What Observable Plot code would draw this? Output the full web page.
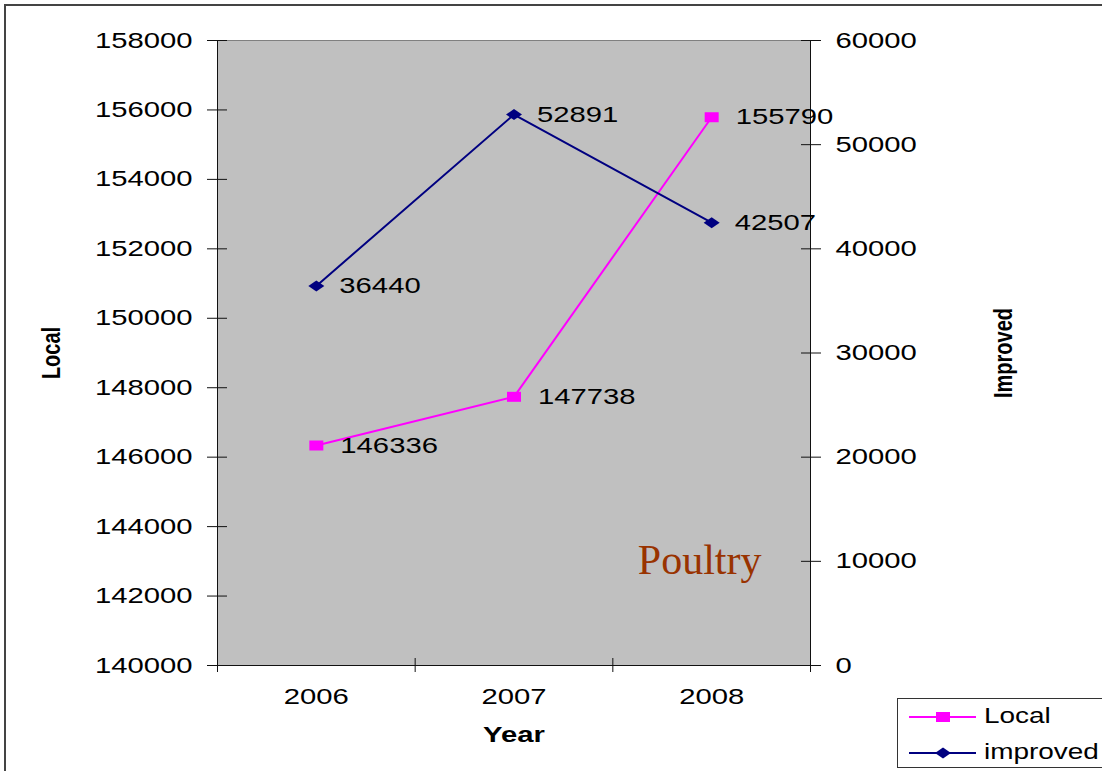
<!DOCTYPE html>
<html><head><meta charset="utf-8">
<script src="https://cdn.jsdelivr.net/npm/d3@7"></script>
<script src="https://cdn.jsdelivr.net/npm/@observablehq/plot@0.6"></script>
<style>
body{margin:0;background:#fff;overflow:hidden;width:1102px;height:771px;position:relative;font-family:"Liberation Sans",Arial,sans-serif}
#chart{position:absolute;left:0;top:0}
#frame{position:absolute;left:4px;top:4px;width:1200px;height:900px;border-left:2px solid #444;border-top:2px solid #444;pointer-events:none}
#legend{position:absolute;left:897px;top:698px;width:240px;height:68px;border:1.5px solid #333;background:#fff}
.row{position:absolute;left:0;height:30px;width:240px}
.row svg{position:absolute;left:0;top:0}
.row span{position:absolute;left:86px;top:2px;font-size:22px;line-height:26px;color:#000;display:inline-block;transform:scaleX(1.27);transform-origin:left center;white-space:nowrap}
</style></head><body>
<div id="chart"></div><div id="frame"></div><div id="legend"></div>
<script>
const years = [2006, 2007, 2008];
const localValues = [146336, 147738, 155790];
const improvedValues = [36440, 52891, 42507];
const localTicks = d3.range(140000, 158001, 2000);
const improvedTicks = d3.range(0, 60001, 10000);
const xBoundaries = [2005.5, 2006.5, 2007.5, 2008.5];
const seriesNames = ["Local", "improved"];
const seriesColors = ["#FF00FF", "#000080"];

const toLeft = v => 140000 + v * (18000 / 60000);
const fromLeft = d => Math.round((d - 140000) / 0.3);

const localData = years.map((y, i) => ({year: y, value: localValues[i], label: String(localValues[i])}));
const improvedData = years.map((y, i) => ({year: y, value: toLeft(improvedValues[i]), label: String(improvedValues[i])}));

const rectSymbol = {draw(ctx) { ctx.rect(-7, -5, 14, 10); }};
const diamondSymbol = {draw(ctx) { ctx.moveTo(0, -5.5); ctx.lineTo(8, 0); ctx.lineTo(0, 5.5); ctx.lineTo(-8, 0); ctx.closePath(); }};

const chart = Plot.plot({
  width: 1102,
  height: 771,
  marginLeft: 217,
  marginRight: 292,
  marginTop: 40,
  marginBottom: 106,
  style: {fontFamily: "Liberation Sans, Arial, sans-serif", fontSize: "22px", background: "transparent", color: "#000"},
  x: {domain: [2005.5, 2008.5], axis: null},
  y: {domain: [140000, 158000], axis: null},
  marks: [
    Plot.frame({fill: "#C0C0C0", stroke: "#808080"}),
    Plot.ruleX([2005.5, 2008.5], {stroke: "#111"}),
    Plot.ruleY([140000], {stroke: "#111"}),
    Plot.axisY(localTicks, {anchor: "left", tickSize: 20, dx: 10, fill: "none", stroke: "#111", label: null}),
    Plot.axisY(localTicks, {anchor: "left", tickSize: 0, tickPadding: 25, fontSize: 22, tickFormat: d => String(d), label: null}),
    Plot.axisY(improvedTicks.map(toLeft), {anchor: "right", tickSize: 20, dx: -10, fill: "none", stroke: "#111", label: null}),
    Plot.axisY(improvedTicks.map(toLeft), {anchor: "right", tickSize: 0, tickPadding: 25, fontSize: 22, tickFormat: d => String(fromLeft(d)), label: null}),
    Plot.axisX(xBoundaries, {anchor: "bottom", tickSize: 14, dy: -7, fill: "none", stroke: "#111", label: null}),
    Plot.axisX(years, {anchor: "bottom", tickSize: 0, tickPadding: 23, fontSize: 22, tickFormat: d => String(d), label: null}),
    Plot.line(localData, {x: "year", y: "value", stroke: seriesColors[0], strokeWidth: 2}),
    Plot.line(improvedData, {x: "year", y: "value", stroke: seriesColors[1], strokeWidth: 2}),
    Plot.dot(localData, {x: "year", y: "value", symbol: rectSymbol, fill: seriesColors[0], stroke: "none"}),
    Plot.dot(improvedData, {x: "year", y: "value", symbol: diamondSymbol, fill: seriesColors[1], stroke: "none"}),
    Plot.text(localData, {x: "year", y: "value", text: "label", dx: 24, textAnchor: "start", lineAnchor: "middle", fontSize: 22, fill: "#000"}),
    Plot.text(improvedData, {x: "year", y: "value", text: "label", dx: 23, textAnchor: "start", lineAnchor: "middle", fontSize: 22, fill: "#000"}),
    Plot.text(["Poultry"], {frameAnchor: "bottom-right", textAnchor: "end", lineAnchor: "middle", dx: -49, dy: -105, fontFamily: "Liberation Serif, Times New Roman, serif", fontSize: 42, fill: "#993300"}),
    Plot.text(["Year"], {frameAnchor: "bottom", lineAnchor: "middle", dy: 69, fontWeight: "bold", fontSize: 22, fill: "#000"}),
    Plot.text(["Local"], {frameAnchor: "left", lineAnchor: "middle", textAnchor: "middle", dx: -166, rotate: -90, fontWeight: "bold", fontSize: 20, fill: "#000"}),
    Plot.text(["Improved"], {frameAnchor: "right", lineAnchor: "middle", textAnchor: "middle", dx: 193, rotate: -90, fontWeight: "bold", fontSize: 20, fill: "#000"})
  ]
});

// widen sans-serif text horizontally to match the stretched reference rendering
chart.querySelectorAll("text").forEach(el => {
  const t = el.getAttribute("transform") || "";
  if (el.textContent === "Poultry") return;
  if (t.includes("rotate")) {
    // rotated titles: stretch across the text (screen-horizontal direction)
    el.setAttribute("transform", `${t} scale(1,1.3)`);
    return;
  }
  const x = +el.getAttribute("x") || 0;
  el.setAttribute("transform", `${t} translate(${x},0) scale(1.33,1) translate(${-x},0)`);
});

document.getElementById("chart").appendChild(chart);

// legend
const legend = document.getElementById("legend");
const symbolPaths = ["M38,11h14v10h-14z", "M45,10.5L53,16L45,21.5L37,16Z"];
seriesNames.forEach((name, i) => {
  const row = document.createElement("div");
  row.className = "row";
  row.style.top = (i === 0 ? 2 : 38) + "px";
  row.innerHTML = `<svg width="84" height="32"><line x1="11" x2="78" y1="16" y2="16" stroke="${seriesColors[i]}" stroke-width="2"/><path d="${symbolPaths[i]}" fill="${seriesColors[i]}"/></svg><span>${name}</span>`;
  legend.appendChild(row);
});
</script>
</body></html>
